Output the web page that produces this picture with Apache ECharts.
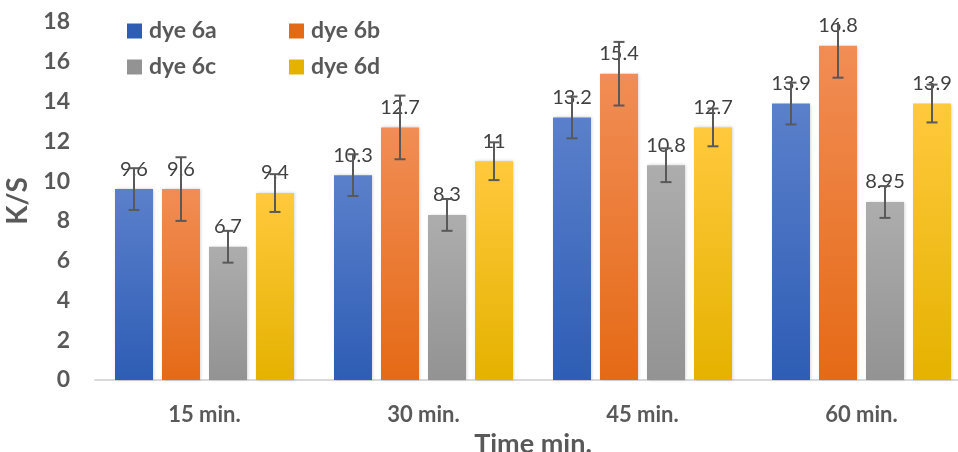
<!DOCTYPE html>
<html>
<head>
<meta charset="utf-8">
<script src="https://cdn.jsdelivr.net/npm/echarts@6/dist/echarts.min.js"></script>
<style>html,body{margin:0;padding:0;background:#fff;overflow:hidden}#c{width:958px;height:452px}</style>
</head>
<body>
<div id="c"></div>
<script>
const categories = ['15 min.', '30 min.', '45 min.', '60 min.'];
const seriesNames = ['dye 6a', 'dye 6b', 'dye 6c', 'dye 6d'];
const dye6a = [9.6, 10.3, 13.2, 13.9];
const dye6b = [9.6, 12.7, 15.4, 16.8];
const dye6c = [6.7, 8.3, 10.8, 8.95];
const dye6d = [9.4, 11, 12.7, 13.9];
const err6a = [1.05, 1.05, 1.05, 1.05];
const err6b = [1.6, 1.6, 1.6, 1.6];
const err6c = [0.8, 0.8, 0.85, 0.8];
const err6d = [0.95, 0.95, 0.95, 0.95];
const yTicks = [0, 2, 4, 6, 8, 10, 12, 14, 16, 18];

const values = [dye6a, dye6b, dye6c, dye6d];
const errors = [err6a, err6b, err6c, err6d];
const colors = [
  ['#5b80cb', '#2e5db5'],
  ['#f18d55', '#e56a16'],
  ['#adadad', '#939393'],
  ['#ffc93d', '#e5b200']
];
const FONT = 'Lato';
const BAR_W = 38, GAP = 9;
const TEXT = '#595959';

const chart = echarts.init(document.getElementById('c'), null, {renderer: 'canvas', width: 958, height: 452});

const barSeries = seriesNames.map((name, i) => ({
  name: name,
  type: 'bar',
  data: values[i],
  barWidth: BAR_W,
  barGap: (GAP / BAR_W * 100).toFixed(1) + '%',
  itemStyle: {
    color: new echarts.graphic.LinearGradient(0, 0, 0, 1, [
      {offset: 0, color: colors[i][0]},
      {offset: 1, color: colors[i][1]}
    ]),
    shadowColor: 'rgba(0,0,0,0.2)',
    shadowBlur: 3,
    shadowOffsetX: 1,
    shadowOffsetY: 0
  },
  label: {
    show: true,
    position: 'top',
    distance: 10,
    color: '#404040',
    fontFamily: FONT,
    fontSize: 20,
    formatter: p => String(values[i][p.dataIndex])
  },
  z: 2
}));

const errSeries = seriesNames.map((name, i) => ({
  type: 'custom',
  name: name + ' err',
  z: 5,
  clip: true,
  data: values[i].map((v, k) => [k, v - errors[i][k], v + errors[i][k]]),
  renderItem: function (params, api) {
    const k = api.value(0);
    const lo = api.coord([k, api.value(1)]);
    const hi = api.coord([k, api.value(2)]);
    const x = lo[0] + (i - 1.5) * (BAR_W + GAP);
    const cw = 5.5;
    const style = {stroke: '#595959', lineWidth: 2};
    return {
      type: 'group',
      children: [
        {type: 'line', shape: {x1: x, y1: hi[1], x2: x, y2: lo[1]}, style: style},
        {type: 'line', shape: {x1: x - cw, y1: hi[1], x2: x + cw, y2: hi[1]}, style: style},
        {type: 'line', shape: {x1: x - cw, y1: lo[1], x2: x + cw, y2: lo[1]}, style: style}
      ]
    };
  },
  silent: true,
  tooltip: {show: false}
}));

const legendText = {color: TEXT, fontFamily: FONT, fontSize: 23, fontWeight: 'bold', lineHeight: 24, padding: [0, 0, 0, 2]};

chart.setOption({
  backgroundColor: '#ffffff',
  animation: false,
  legend: [
    {
      data: [seriesNames[0], seriesNames[2]].map((n, j) => ({name: n, itemStyle: {color: colors[j * 2][1]}})),
      orient: 'vertical', left: 122, top: 14,
      itemWidth: 15, itemHeight: 15, itemGap: 12,
      icon: 'rect', textStyle: legendText
    },
    {
      data: [seriesNames[1], seriesNames[3]].map((n, j) => ({name: n, itemStyle: {color: colors[j * 2 + 1][1]}})),
      orient: 'vertical', left: 284, top: 14,
      itemWidth: 15, itemHeight: 15, itemGap: 12,
      icon: 'rect', textStyle: legendText
    }
  ],
  grid: {left: 95, top: 22, height: 358, width: 876, containLabel: false, outerBoundsMode: 'none'},
  xAxis: {
    type: 'category',
    data: categories,
    name: 'Time min.',
    nameLocation: 'middle',
    nameGap: 50,
    nameTextStyle: {color: TEXT, fontFamily: FONT, fontSize: 27, fontWeight: 'bold'},
    axisLine: {lineStyle: {color: '#d9d9d9', width: 2}},
    axisTick: {show: false},
    axisLabel: {color: TEXT, fontFamily: FONT, fontSize: 22, fontWeight: 'bold', margin: 24}
  },
  yAxis: {
    type: 'value',
    min: yTicks[0],
    max: yTicks[yTicks.length - 1],
    interval: yTicks[1] - yTicks[0],
    name: 'K/S',
    nameLocation: 'middle',
    nameGap: 62,
    nameRotate: 90,
    nameTextStyle: {color: TEXT, fontFamily: FONT, fontSize: 28, fontWeight: 'bold'},
    axisLine: {show: false},
    axisTick: {show: false},
    splitLine: {show: false},
    axisLabel: {color: TEXT, fontFamily: FONT, fontSize: 23, fontWeight: 'bold', margin: 25}
  },
  series: barSeries.concat(errSeries)
});
</script>
</body>
</html>
